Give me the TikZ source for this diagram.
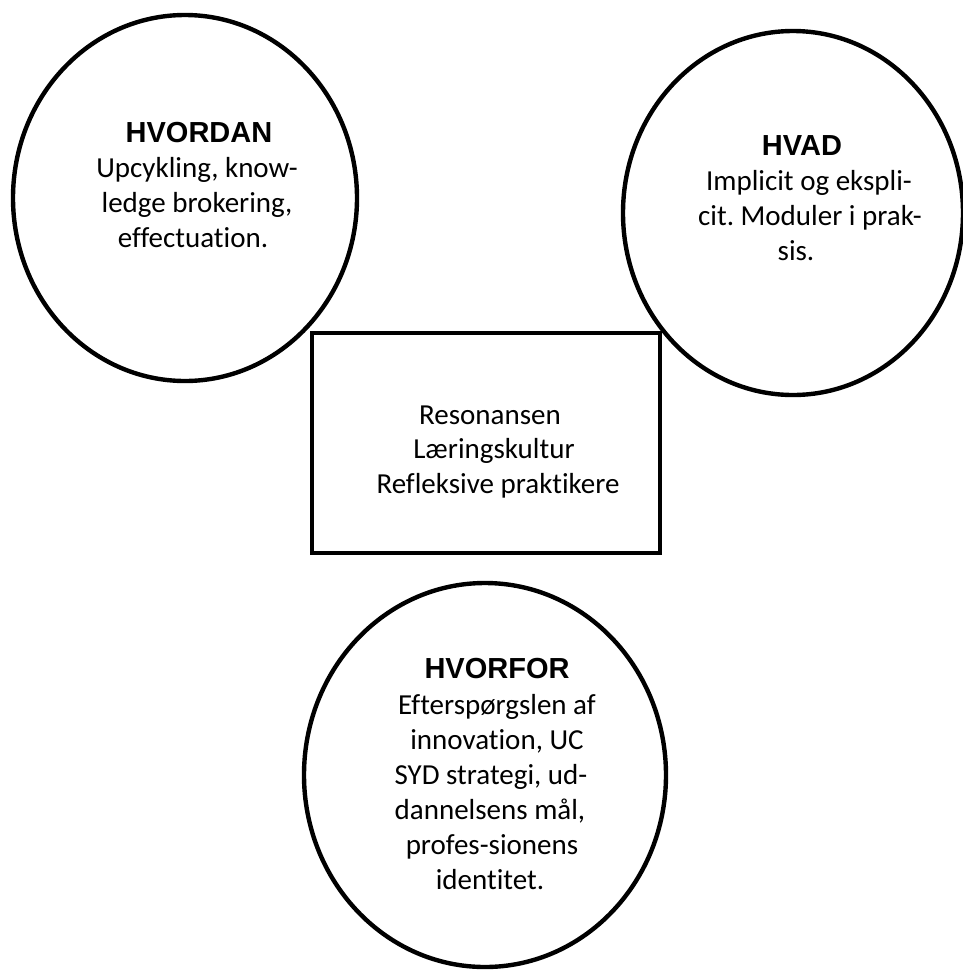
\documentclass[tikz,border=0pt]{standalone}
\usepackage{fontspec}
\setmainfont{Carlito}[Ligatures=NoCommon]
\newfontfamily\headfont{Liberation Sans}
\usetikzlibrary{shapes.geometric}
\frenchspacing
\begin{document}
\begin{tikzpicture}[x=1pt,y=-1pt,
  circ/.style={draw=black,ellipse,line width=4.4pt,inner sep=0pt},
  box/.style={draw=black,line width=4.6pt,inner sep=0pt},
  body/.style={anchor=base,inner sep=0pt,font=\fontsize{29}{35}\selectfont},
  head/.style={anchor=base,inner sep=0pt,font=\headfont\bfseries\fontsize{29}{35}\selectfont}]
\fill[white] (0,0) rectangle (962,970);
\useasboundingbox (0,0) rectangle (962,970);
% shapes
\node[circ,minimum width=344pt,minimum height=366pt] (hvordan) at (185,198) {};
\node[circ,minimum width=340pt,minimum height=364pt] (hvad) at (793,213) {};
\node[box,minimum width=348pt,minimum height=220pt] (center) at (486,443) {};
\node[circ,minimum width=362pt,minimum height=384pt] (hvorfor) at (485,775) {};
% left text
\node[head] (t1) at (199,142) {HVORDAN};
\node[body] (t2) at (197,177) {Upcykling, know-};
\node[body] (t3) at (197,212) {ledge brokering,};
\node[body] (t4) at (193,247) {effectuation.};
% right text
\node[head] (r1) at (802,155) {HVAD};
\node[body] (r2) at (809,190) {Implicit og ekspli-};
\node[body] (r3) at (810,225) {cit. Moduler i prak-};
\node[body] (r4) at (796,260) {sis.};
% box text
\node[body] (c1) at (490,424) {Resonansen};
\node[body] (c2) at (494,458) {Læringskultur};
\node[body] (c3) at (498,493) {Refleksive praktikere};
% bottom text
\node[head] (b1) at (497,678) {HVORFOR};
\node[body] (b2) at (497,714) {Efterspørgslen af};
\node[body] (b3) at (497,749) {innovation, UC};
\node[body] (b4) at (491,784) {SYD strategi, ud-};
\node[body] (b5) at (490,819) {dannelsens mål,};
\node[body] (b6) at (492,854) {profes-sionens};
\node[body] (b7) at (490,889) {identitet.};
\end{tikzpicture}
\end{document}
